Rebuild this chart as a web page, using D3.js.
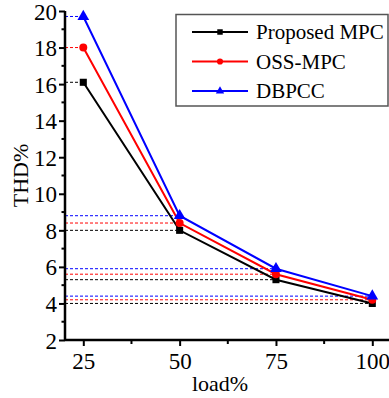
<!DOCTYPE html>
<html><head><meta charset="utf-8">
<script src="https://cdn.jsdelivr.net/npm/d3@7"></script>
<style>body{margin:0;background:#fff}svg{display:block}svg text{font-family:"Liberation Serif",serif !important;fill:#000}</style>
</head><body><svg id="c" width="389" height="398"></svg>
<script>
const loads = [25, 50, 75, 100];
const proposed = [16.1, 8.0, 5.3, 4.0];
const oss = [18.0, 8.4, 5.6, 4.2];
const dbpcc = [19.7, 8.8, 5.9, 4.4];
const seriesNames = ["Proposed MPC", "OSS-MPC", "DBPCC"];
const seriesColors = ["#000000", "#ff0000", "#0000ff"];
const seriesSymbols = [d3.symbolSquare, d3.symbolCircle, d3.symbolTriangle];
const yTicks = [2, 4, 6, 8, 10, 12, 14, 16, 18, 20];
const xTicks = [25, 50, 75, 100];

const FF = "Liberation Serif, serif";
const svg = d3.select("#c");
const x = d3.scaleLinear().domain([20.25, 100]).range([65, 372.3]);
const y = d3.scaleLinear().domain([2, 20]).range([340, 11]);

const series = [proposed, oss, dbpcc];

series.forEach((vals, i) => {
  svg.append("g").selectAll("line").data(vals).join("line")
    .attr("x1", x(20.25)).attr("x2", (d, j) => x(loads[j]))
    .attr("y1", d => y(d)).attr("y2", d => y(d))
    .attr("stroke", seriesColors[i]).attr("stroke-width", 1)
    .attr("stroke-dasharray", "3,2");
});

const yAxis = d3.axisLeft(y).tickValues(yTicks).tickSize(6).tickFormat(d3.format("d"));
const gy = svg.append("g").attr("transform", `translate(${x(20.25)},0)`).call(yAxis).attr("font-family", FF);
gy.selectAll("text").attr("font-size", 23).attr("x", -8).attr("dy", "0.35em");
gy.append("g").selectAll("line").data(d3.range(3, 20, 2)).join("line")
  .attr("x1", 0).attr("x2", -3.5).attr("y1", d => y(d)).attr("y2", d => y(d)).attr("stroke", "#000").attr("stroke-width", 2);

const xAxis = d3.axisBottom(x).tickValues(xTicks).tickSize(6).tickFormat(d3.format("d"));
const gx = svg.append("g").attr("transform", `translate(0,${y(2)})`).call(xAxis).attr("font-family", FF);
gx.selectAll("text").attr("font-size", 23).attr("dy", "0.9em").attr("y", 8);
gx.append("g").selectAll("line").data([37.5, 62.5, 87.5]).join("line")
  .attr("x1", d => x(d)).attr("x2", d => x(d)).attr("y1", 0).attr("y2", 4).attr("stroke", "#000").attr("stroke-width", 2);
svg.selectAll(".domain").attr("stroke-width", 2.5);
gx.select(".domain").attr("d", `M${x(20.25)},0H389`);
gy.select(".domain").attr("d", `M0,${y(2)}V${y(20)}`);
svg.selectAll(".tick line").attr("stroke-width", 2);

const line = d3.line().x((d, j) => x(loads[j])).y(d => y(d));
series.forEach((vals, i) => {
  svg.append("path").datum(vals).attr("d", line).attr("fill", "none")
    .attr("stroke", seriesColors[i]).attr("stroke-width", 2);
  svg.append("g").selectAll("path").data(vals).join("path")
    .attr("d", d3.symbol().type(seriesSymbols[i]).size(i === 2 ? 60 : 50))
    .attr("transform", (d, j) => `translate(${x(loads[j])},${y(d)})`)
    .attr("fill", seriesColors[i]);
});

svg.append("text").attr("x", 220).attr("y", 391).attr("text-anchor", "middle").attr("font-size", 22).attr("font-family", FF).text("load%");
svg.append("text").attr("transform", `translate(28,${(y(2) + y(20)) / 2}) rotate(-90)`)
  .attr("text-anchor", "middle").attr("font-size", 22).attr("font-family", FF).text("THD%");

const lg = svg.append("g").attr("font-family", FF);
lg.append("rect").attr("x", 176).attr("y", 14.5).attr("width", 212).attr("height", 91.5)
  .attr("fill", "#fff").attr("stroke", "#555").attr("stroke-width", 1.5);
seriesNames.forEach((n, i) => {
  const ly = 32 + i * 29.5;
  lg.append("line").attr("x1", 192).attr("x2", 248).attr("y1", ly).attr("y2", ly)
    .attr("stroke", seriesColors[i]).attr("stroke-width", 2);
  lg.append("path").attr("d", d3.symbol().type(seriesSymbols[i]).size(30))
    .attr("transform", `translate(220,${ly})`).attr("fill", seriesColors[i]);
  lg.append("text").attr("x", 256).attr("y", ly + 7).attr("font-size", 21).text(n);
});
</script></body></html>
